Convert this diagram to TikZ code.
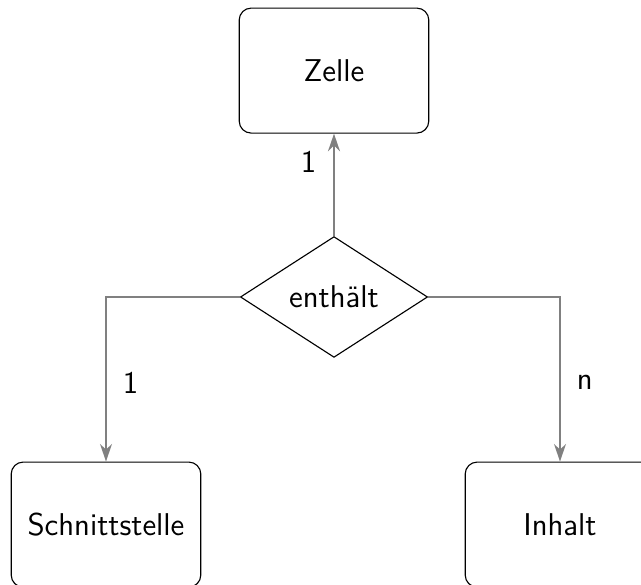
\documentclass[tikz,border=0pt]{standalone}
\usetikzlibrary{shapes.geometric, arrows.meta}

\begin{document}
\begin{tikzpicture}[
	font=\sffamily\fontsize{11.2}{13}\selectfont,
	entity/.style={shape=rectangle, draw, rounded corners=0.15cm, minimum width=2.37cm, minimum height=1.5625cm},
	relation/.style={shape=diamond, draw, aspect=1.55, minimum width=2.34cm, minimum height=1.51cm, inner sep=1pt},
	rel/.style={draw=gray, semithick, -{Stealth[length=2.2mm, width=1.5mm]}},
	card/.style={inner sep=0pt, text=black}]
	% Entities, relation and links:
	\clip (0, 0) rectangle (8.0125, 7.3125);
	\node[entity] (zelle) at (4.175, 6.43){Zelle};
	\node[relation] (enthaelt) at (4.175, 3.6){enthält};
	\node[entity] (schnittstelle) at (1.325, 0.755){Schnittstelle};
	\node[entity] (inhalt) at (7.0, 0.755){Inhalt};
	\draw[rel] (enthaelt) -- node[card, pos=0.72, left=0.21cm]{1} (zelle);
	\draw[rel] (enthaelt) -| node[card, pos=0.76, right=0.2cm]{1} (schnittstelle);
	\draw[rel] (enthaelt) -| node[card, pos=0.76, right=0.2cm]{n} (inhalt);
\end{tikzpicture}
\end{document}
